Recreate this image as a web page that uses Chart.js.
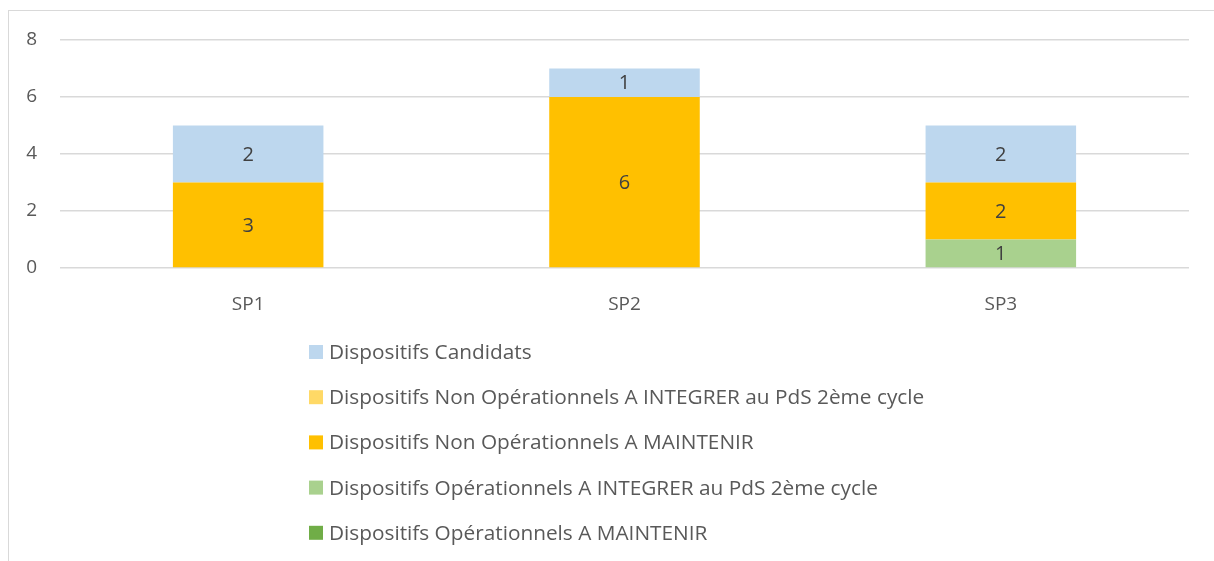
<!DOCTYPE html>
<html>
<head>
<meta charset="utf-8">
<script src="https://cdn.jsdelivr.net/npm/chart.js@4"></script>
<style>
  body { margin: 0; background: #fff; }
  #wrap { position: relative; width: 1214px; height: 561px; }
</style>
</head>
<body>
<div id="wrap"><canvas id="chart_barres"></canvas></div>
<script>
const categories = ['SP1', 'SP2', 'SP3'];
const yTicks = [0, 2, 4, 6, 8];

// series, du bas vers le haut de la pile
const opMaintenir = [0, 0, 0];
const opIntegrer = [0, 0, 1];
const nonOpMaintenir = [3, 6, 2];
const nonOpIntegrer = [0, 0, 0];
const candidats = [2, 1, 2];

const FONT = '"Open Sans", "Noto Sans", sans-serif';

// cadre gris autour du graphique
const cadre = {
  id: 'cadre',
  beforeDraw(chart) {
    const ctx = chart.ctx;
    ctx.save();
    ctx.strokeStyle = '#d9d9d9';
    ctx.lineWidth = 1;
    ctx.strokeRect(8.5, 10.5, chart.width + 20, chart.height + 20);
    ctx.restore();
  }
};

// valeurs au centre des barres (on saute les zeros)
const etiquettes = {
  id: 'etiquettes',
  afterDatasetsDraw(chart) {
    const ctx = chart.ctx;
    ctx.save();
    ctx.font = '20px ' + FONT;
    ctx.fillStyle = '#404040';
    ctx.textAlign = 'center';
    ctx.textBaseline = 'middle';
    chart.data.datasets.forEach((ds, i) => {
      const meta = chart.getDatasetMeta(i);
      meta.data.forEach((bar, j) => {
        const v = ds.data[j];
        if (!v) return;
        const p = bar.getProps(['x', 'y', 'base'], true);
        ctx.fillText(v, p.x, (p.y + p.base) / 2 + 1);
      });
    });
    ctx.restore();
  }
};

// legende verticale sous le graphique, ordre inverse de la pile
const legende = {
  id: 'legende',
  afterDraw(chart) {
    const ctx = chart.ctx;
    const x0 = 309, y0 = 352, pas = 45.2;
    ctx.save();
    ctx.font = '20.8px ' + FONT;
    ctx.textBaseline = 'middle';
    const items = chart.data.datasets.slice().reverse();
    items.forEach((ds, k) => {
      const y = y0 + k * pas;
      ctx.fillStyle = ds.backgroundColor;
      ctx.fillRect(x0, y - 7, 14, 14);
      ctx.fillStyle = '#595959';
      ctx.fillText(ds.label, x0 + 20, y + 1);
    });
    ctx.restore();
  }
};

const ctx = document.getElementById('chart_barres');

new Chart(ctx, {
  type: 'bar',
  data: {
    labels: categories,
    datasets: [
      { label: 'Dispositifs Opérationnels A MAINTENIR', data: opMaintenir, backgroundColor: '#70ad47' },
      { label: 'Dispositifs Opérationnels A INTEGRER au PdS 2ème cycle', data: opIntegrer, backgroundColor: '#a9d18e' },
      { label: 'Dispositifs Non Opérationnels A MAINTENIR', data: nonOpMaintenir, backgroundColor: '#ffc000' },
      { label: 'Dispositifs Non Opérationnels A INTEGRER au PdS 2ème cycle', data: nonOpIntegrer, backgroundColor: '#ffd966' },
      { label: 'Dispositifs Candidats', data: candidats, backgroundColor: '#bdd7ee' }
    ]
  },
  options: {
    responsive: true,
    maintainAspectRatio: false,
    animation: false,
    barPercentage: 0.8,
    categoryPercentage: 0.5,
    layout: { padding: { left: 10, top: 40, right: 25, bottom: 233 } },
    scales: {
      x: {
        stacked: true,
        grid: { display: false },
        border: { display: false },
        ticks: { color: '#595959', font: { family: FONT, size: 19 }, padding: 17 },
        afterFit(scale) { scale.height = 60; }
      },
      y: {
        stacked: true,
        min: yTicks[0],
        max: yTicks[yTicks.length - 1],
        afterBuildTicks(scale) { scale.ticks = yTicks.map(v => ({ value: v })); },
        grid: { color: '#d9d9d9', lineWidth: 1.5, drawTicks: false },
        border: { display: false },
        ticks: { color: '#595959', font: { family: FONT, size: 19 }, padding: 23 },
        afterFit(scale) { scale.width = 50; }
      }
    },
    plugins: {
      legend: { display: false },
      tooltip: { enabled: false }
    }
  },
  plugins: [cadre, etiquettes, legende]
});
</script>
</body>
</html>
